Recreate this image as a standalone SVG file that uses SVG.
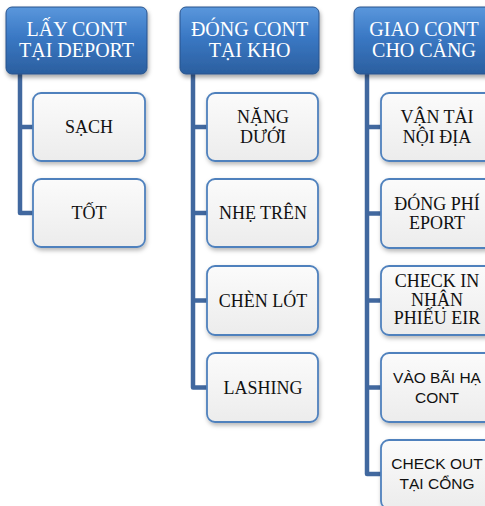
<svg xmlns="http://www.w3.org/2000/svg" width="485" height="506" viewBox="0 0 485 506">
<defs>
<linearGradient id="hdr" x1="0" y1="0" x2="0" y2="1">
<stop offset="0" stop-color="#5a97dc"/>
<stop offset="0.45" stop-color="#3a78c4"/>
<stop offset="1" stop-color="#2b5f9f"/>
</linearGradient>
<linearGradient id="chd" x1="0" y1="0" x2="0" y2="1">
<stop offset="0" stop-color="#fbfbfb"/>
<stop offset="1" stop-color="#ececec"/>
</linearGradient>
<filter id="sh" x="-10%" y="-10%" width="125%" height="135%">
<feDropShadow dx="1" dy="3" stdDeviation="2.2" flood-color="#000" flood-opacity="0.35"/>
</filter>
<filter id="sh2" x="-10%" y="-10%" width="125%" height="135%">
<feDropShadow dx="1" dy="2.5" stdDeviation="2" flood-color="#000" flood-opacity="0.28"/>
</filter>
</defs>
<style>
.hdr{fill:url(#hdr);stroke:#28538c;stroke-width:1;filter:url(#sh)}
.ht{font-family:"Liberation Serif",serif;font-size:20px;fill:#ffffff;text-anchor:middle}
.chd{fill:url(#chd);stroke:#4f81bd;stroke-width:1.8;filter:url(#sh2)}
.ct{font-family:"Liberation Serif",serif;font-size:18px;fill:#111;text-anchor:middle}
.cs{font-family:"Liberation Sans",sans-serif;font-size:15.5px;fill:#111;text-anchor:middle}
.con{fill:none;stroke:#41689f;stroke-width:4.5;stroke-linejoin:round}
</style>
<g id="connectors">
<path class="con" d="M20 74 V213 H34 M20 127 H34"/>
<path class="con" d="M193 74 V387.5 H208 M193 127 H208 M193 213 H208 M193 300.5 H208"/>
<path class="con" d="M367 74 V474 H382 M367 127 H382 M367 213.5 H382 M367 300.5 H382 M367 387.5 H382"/>
</g>
<g id="h1"><rect class="hdr" x="6" y="7" width="141" height="67" rx="6"/><text class="ht" x="76.5" y="36">LẤY CONT</text><text class="ht" x="76.5" y="57">TẠI DEPORT</text></g>
<g id="h2"><rect class="hdr" x="180" y="7" width="139" height="67" rx="6"/><text class="ht" x="249.5" y="36">ĐÓNG CONT</text><text class="ht" x="249.5" y="57">TẠI KHO</text></g>
<g id="h3"><rect class="hdr" x="354" y="7" width="140" height="67" rx="6"/><text class="ht" x="424" y="36">GIAO CONT</text><text class="ht" x="424" y="57">CHO CẢNG</text></g>
<g id="c1a"><rect class="chd" x="33" y="93" width="112" height="68" rx="8"/><text class="ct" x="89" y="133">SẠCH</text></g>
<g id="c1b"><rect class="chd" x="33" y="179" width="112" height="68" rx="8"/><text class="ct" x="89" y="219">TỐT</text></g>
<g id="c2a"><rect class="chd" x="207" y="93" width="111" height="68" rx="8"/><text class="ct" x="263" y="123">NẶNG</text><text class="ct" x="263" y="143">DƯỚI</text></g>
<g id="c2b"><rect class="chd" x="207" y="179" width="111" height="68" rx="8"/><text class="ct" x="263" y="219">NHẸ TRÊN</text></g>
<g id="c2c"><rect class="chd" x="207" y="266" width="111" height="69" rx="8"/><text class="ct" x="263" y="307">CHÈN LÓT</text></g>
<g id="c2d"><rect class="chd" x="207" y="353" width="111" height="69" rx="8"/><text class="ct" x="263" y="394">LASHING</text></g>
<g id="c3a"><rect class="chd" x="381" y="93" width="112" height="68" rx="8"/><text class="ct" x="437" y="123">VẬN TẢI</text><text class="ct" x="437" y="143">NỘI ĐỊA</text></g>
<g id="c3b"><rect class="chd" x="381" y="179" width="112" height="69" rx="8"/><text class="ct" x="437" y="210">ĐÓNG PHÍ</text><text class="ct" x="437" y="229">EPORT</text></g>
<g id="c3c"><rect class="chd" x="381" y="266" width="112" height="69" rx="8"/><text class="ct" x="437" y="287">CHECK IN</text><text class="ct" x="437" y="305.5">NHẬN</text><text class="ct" x="437" y="324">PHIẾU EIR</text></g>
<g id="c3d"><rect class="chd" x="381" y="353" width="112" height="69" rx="8"/><text class="cs" x="437" y="383">VÀO BÃI HẠ</text><text class="cs" x="437" y="403">CONT</text></g>
<g id="c3e"><rect class="chd" x="381" y="440" width="112" height="69" rx="8"/><text class="cs" x="437" y="469">CHECK OUT</text><text class="cs" x="437" y="489">TẠI CỔNG</text></g>
</svg>
